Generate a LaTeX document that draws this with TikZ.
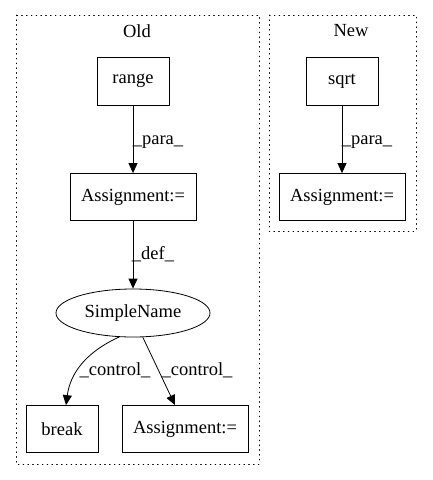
\documentclass[tikz,border=0pt]{standalone}
\usepackage{fontspec}
\setmainfont{Liberation Serif}
\usetikzlibrary{shapes.geometric,arrows.meta}
\begin{document}
\begin{tikzpicture}[x=1pt,y=-1pt,
  every node/.style={font=\fontsize{18.5}{20}\selectfont},
  box/.style={draw,thick,rectangle,inner sep=0pt},
  cluster/.style={draw,thick,dotted,line cap=round,dash pattern=on 0.8pt off 4pt},
  edge/.style={thick,-{Triangle[length=10pt,width=9pt]}},
  elabel/.style={inner sep=1pt}
]
\useasboundingbox (0,0) rectangle (432,480);
% clusters
\draw[cluster] (16,15) rectangle (259,464);
\draw[cluster] (269,15) rectangle (416,231);
\node (lold) at (137,31) {Old};
\node (lnew) at (351,31) {New};
% Old nodes
\node[box,minimum width=72pt,minimum height=48pt] (range) at (133,81) {range};
\node[box,minimum width=126pt,minimum height=47pt] (asg1) at (133,197) {Assignment:=};
\node[draw,thick,ellipse,minimum width=154pt,minimum height=48pt,inner sep=0pt] (sn) at (133,313) {SimpleName};
\node[box,minimum width=72pt,minimum height=47pt] (brk) at (62,429) {break};
\node[box,minimum width=126pt,minimum height=47pt] (asg2) at (185,429) {Assignment:=};
% New nodes
\node[box,minimum width=72pt,minimum height=48pt] (sqrt) at (342,81) {sqrt};
\node[box,minimum width=126pt,minimum height=47pt] (asg3) at (342,197) {Assignment:=};
% edges
\draw[edge] (range) -- (asg1);
\node[elabel] (l1) at (158,142) {\_para\_};
\draw[edge] (asg1) -- (sn);
\node[elabel] (l2) at (153,254) {\_def\_};
\draw[edge] (sqrt) -- (asg3);
\node[elabel] (l3) at (367,142) {\_para\_};
\draw[edge] (sn.240) .. controls (84,353) and (70,375) .. (brk.north -| 66,0);
\node[elabel] (c1) at (115,370) {\_control\_};
\draw[edge] (sn.292) -- (asg2.north -| 175,0);
\node[elabel] (c2) at (197,370) {\_control\_};
\end{tikzpicture}
\end{document}
